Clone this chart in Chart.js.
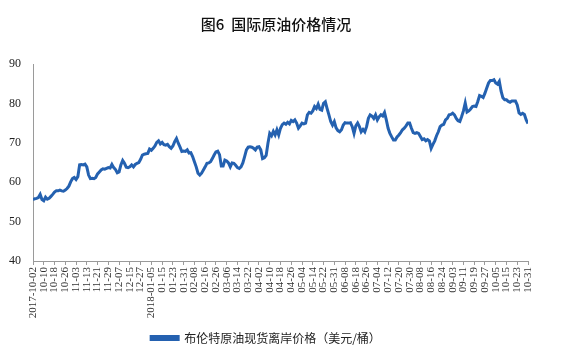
<!DOCTYPE html>
<html>
<head>
<meta charset="utf-8">
<script src="https://cdn.jsdelivr.net/npm/chart.js@4/dist/chart.umd.min.js"></script>
<style>
  html, body { margin: 0; padding: 0; background: #fff; }
  #wrap { width: 563px; height: 357px; }
</style>
</head>
<body>
<div id="wrap"><canvas id="c" width="563" height="357"></canvas></div>
<script>
// Tick labels (every 6th trading day)
const tickLabels = [
  "2017-10-02","10-10","10-18","10-26","11-03","11-13","11-21","11-29","12-07","12-15","12-27",
  "2018-01-05","01-15","01-23","01-31","02-08","02-16","02-26","03-06","03-14","03-22",
  "04-02","04-10","04-18","04-26","05-04","05-14","05-22","05-31","06-08","06-18","06-26",
  "07-04","07-12","07-20","07-30","08-08","08-16","08-24","09-03","09-11","09-19","09-27",
  "10-05","10-15","10-23","10-31"
];
const tickStep = 6;

const seriesName = "布伦特原油现货离岸价格（美元/桶）";

// Brent spot price (USD/barrel), one value per trading day
const brentPrice = [
  55.6, 55.8, 55.9, 56.1, 56.9, 55.6, 55.3, 56.2, 55.7, 55.9,
  56.4, 56.9, 57.5, 57.8, 57.8, 58.0, 57.8, 57.7, 58.0, 58.4,
  59.0, 60.1, 60.9, 61.2, 60.7, 61.4, 64.4, 64.5, 64.4, 64.6,
  63.9, 61.8, 60.9, 61.0, 60.9, 61.2, 62.1, 62.6, 63.1, 63.4,
  63.3, 63.5, 63.7, 63.6, 64.5, 63.7, 63.2, 62.4, 62.6, 64.4,
  65.5, 64.8, 63.8, 63.7, 63.9, 64.4, 63.9, 64.5, 64.8, 65.0,
  65.8, 66.9, 67.1, 67.2, 67.3, 68.4, 68.1, 68.6, 69.2, 70.1,
  70.5, 69.7, 70.1, 69.5,
  69.4, 69.6, 69.0, 68.6, 69.2, 70.3,
  71.1, 69.9, 68.9, 67.8, 67.9, 67.8, 68.2, 67.4, 67.5, 66.5,
  65.2, 63.9, 62.3, 61.8, 62.3, 63.1, 63.9, 64.8, 64.9, 65.2,
  66.0, 66.9, 67.7, 67.9, 67.0, 64.1, 64.1, 65.6, 65.4, 64.9,
  63.9, 64.9, 64.8, 64.3, 63.7, 63.5, 63.9, 64.9, 66.5, 68.2,
  68.9, 69.0, 68.9, 68.6, 68.2, 68.9, 69.0, 68.2, 66.0, 66.2,
  66.8, 69.9, 72.4, 71.8, 72.9, 72.0, 73.3, 72.0, 73.7, 74.6,
  75.0, 74.7, 75.2, 74.8, 75.7,
  75.4, 75.8, 75.0, 73.7, 74.3,
  75.0, 74.8, 75.0, 77.1, 77.7, 77.5, 78.1, 79.2, 78.7, 79.8,
  78.5, 78.3, 80.0, 80.4, 78.7, 77.1, 75.4, 74.5, 75.4, 73.8,
  73.1, 72.8, 73.3, 74.5, 75.1, 75.0, 75.0, 75.1, 74.1, 72.4,
  74.3, 75.0, 74.1, 72.8, 73.4, 72.8, 74.1, 76.2, 77.1, 76.8,
  76.2, 77.1, 75.8, 76.6, 77.1, 76.8, 77.7, 75.8, 73.7, 72.4,
  71.5, 70.7, 70.7, 71.5, 72.0, 72.6, 73.3, 73.7, 74.3, 75.0,
  75.0, 73.7, 72.6, 72.4, 72.6, 72.4,
  71.6, 70.8, 71.0, 70.5,
  70.8, 70.5, 68.6, 69.6, 70.5, 71.8, 72.8, 74.1, 74.5, 74.7,
  75.8, 76.2, 77.1, 77.2, 77.5, 77.1, 76.2, 75.6, 75.4, 76.7,
  78.1, 80.1, 77.8, 78.1, 78.6, 79.2, 79.3, 79.2, 80.5, 82.0,
  81.8, 81.5, 82.6, 83.9, 85.2, 85.8, 85.8, 86.0, 85.2, 84.9,
  85.6, 83.1, 81.4, 80.9, 80.9, 80.5, 80.3, 80.6, 80.6, 80.6,
  79.6, 77.6, 77.2, 77.5, 77.2, 75.8, 74.9
];

const yTicks = [40, 50, 60, 70, 80, 90];

const points = brentPrice.map((v, i) => ({ x: i, y: v }));

const shiftTitle = {
  id: 'shiftTitle',
  afterLayout(chart) {
    const t = chart.titleBlock;
    if (t) { t.left += 12; t.right += 12; }
    const l = chart.legend;
    if (l) { l.left += 2; l.right += 2; }
  }
};

new Chart(document.getElementById('c'), {
  type: 'line',
  data: {
    datasets: [{
      label: seriesName,
      data: points,
      borderColor: '#2461B0',
      backgroundColor: '#2461B0',
      borderWidth: 3,
      pointRadius: 0,
      tension: 0,
      fill: false
    }]
  },
  options: {
    responsive: false,
    animation: false,
    devicePixelRatio: 1,
    layout: { padding: { left: 0, right: 35, top: 0, bottom: 3 } },
    plugins: {
      title: {
        display: true,
        text: '图6  国际原油价格情况',
        color: '#111',
        font: { family: '"Noto Sans CJK SC", sans-serif', size: 15, weight: '500' },
        padding: { top: 15, bottom: 31 }
      },
      legend: {
        display: true,
        position: 'bottom',
        labels: {
          boxWidth: 27,
          boxHeight: 3,
          color: '#222',
          font: { family: '"Noto Sans CJK SC", sans-serif', size: 12 },
          padding: 10
        }
      },
      tooltip: { enabled: false }
    },
    scales: {
      x: {
        type: 'linear',
        min: 0,
        max: brentPrice.length - 1,
        offset: false,
        afterFit(scale) { scale.height = 61; },
        grid: { display: true, drawOnChartArea: false, drawTicks: true, tickLength: 4, color: '#9a9a9a' },
        border: { display: true, color: '#9a9a9a', width: 1 },
        ticks: {
          stepSize: tickStep,
          autoSkip: false,
          maxRotation: 90,
          minRotation: 90,
          padding: 2,
          color: '#333',
          font: { family: '"Liberation Serif", serif', size: 11 },
          callback(v) {
            const k = Math.round(v / tickStep);
            return (Math.abs(v - k * tickStep) < 1e-6) ? (tickLabels[k] || '') : '';
          }
        }
      },
      y: {
        min: yTicks[0],
        max: yTicks[yTicks.length - 1],
        afterFit(scale) { scale.width = 33; },
        afterBuildTicks(scale) { scale.ticks = yTicks.map(v => ({ value: v })); },
        grid: { display: true, drawOnChartArea: false, drawTicks: false },
        border: { display: true, color: '#9a9a9a', width: 1 },
        ticks: {
          padding: 12,
          color: '#222',
          font: { family: '"Liberation Serif", serif', size: 12 }
        }
      }
    }
  },
  plugins: [shiftTitle]
});
</script>
</body>
</html>
